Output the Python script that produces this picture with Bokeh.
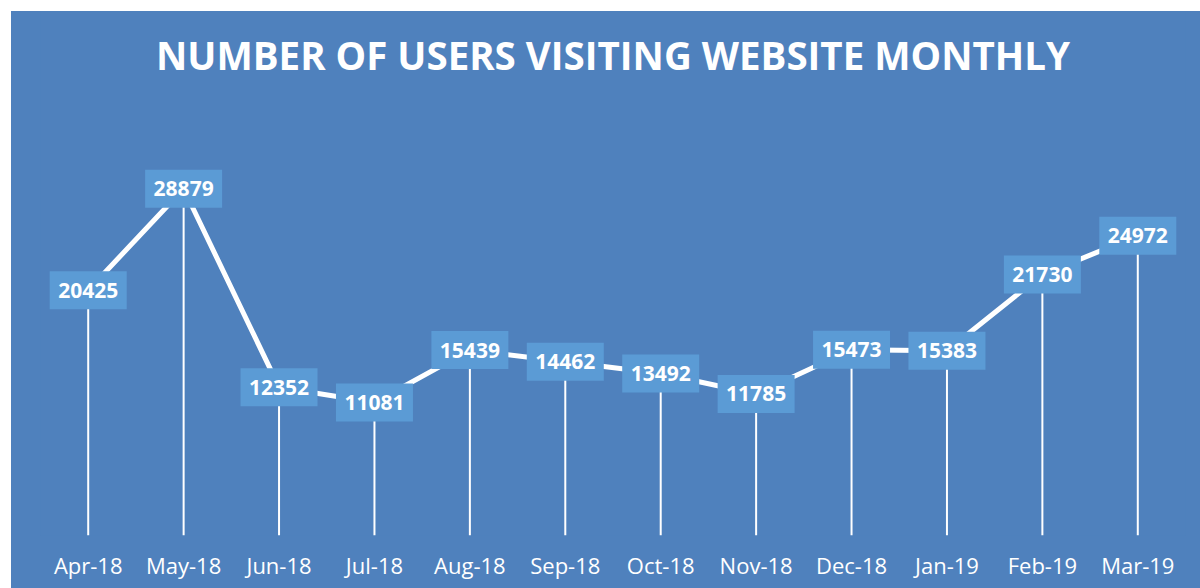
from bokeh.plotting import figure
from bokeh.models import Range1d, FactorRange, Label
from bokeh.embed import file_html
from bokeh.resources import INLINE
from bokeh.core.properties import value

# ---- data ----
months = ["Apr-18", "May-18", "Jun-18", "Jul-18", "Aug-18", "Sep-18",
          "Oct-18", "Nov-18", "Dec-18", "Jan-19", "Feb-19", "Mar-19"]
users = [20425, 28879, 12352, 11081, 15439, 14462,
         13492, 11785, 15473, 15383, 21730, 24972]
title_text = "NUMBER OF USERS VISITING WEBSITE MONTHLY"

BG = "#4F81BD"
BOX = "#5B9BD5"
WHITE = "#FFFFFF"

Y_END = 43641

p = figure(x_range=FactorRange(factors=months, range_padding=0),
           y_range=Range1d(0, Y_END),
           width=1189, height=577,
           output_backend="svg", toolbar_location=None,
           y_axis_location=None,
           min_border_left=29, min_border_right=15,
           min_border_top=0, min_border_bottom=53)
p.margin = (11, 0, 0, 11)
p.styles = {"background-color": BG}

p.background_fill_color = BG
p.border_fill_color = BG
p.outline_line_color = None
p.xgrid.grid_line_color = None
p.ygrid.grid_line_color = None

# drop lines
p.segment(x0=months, y0=[0] * len(months), x1=months, y1=users,
          line_color=WHITE, line_width=2)
# main line
p.line(x=months, y=users, line_color=WHITE, line_width=5, line_join="round")
# label boxes
p.rect(x=months, y=users, width=77, height=38,
       width_units="screen", height_units="screen",
       fill_color=BOX, line_color=None)
p.text(x=months, y=users, text=[str(u) for u in users],
       text_align="center", text_baseline="middle",
       text_font=value("Open Sans"), text_font_style="bold",
       text_font_size="21px", text_color=WHITE)

# title
p.add_layout(Label(x=6.0, y=39977, text=title_text,
                   text_align="center", text_baseline="alphabetic",
                   text_font="Open Sans", text_font_style="bold",
                   text_font_size="38.5px", text_color=WHITE))

ax = p.xaxis
ax.axis_line_color = None
ax.major_tick_line_color = None
ax.minor_tick_line_color = None
ax.major_tick_out = 0
ax.major_label_standoff = 14
ax.major_label_text_font = "Open Sans"
ax.major_label_text_font_size = "22px"
ax.major_label_text_color = WHITE

open("out.html", "w").write(file_html(p, INLINE))
